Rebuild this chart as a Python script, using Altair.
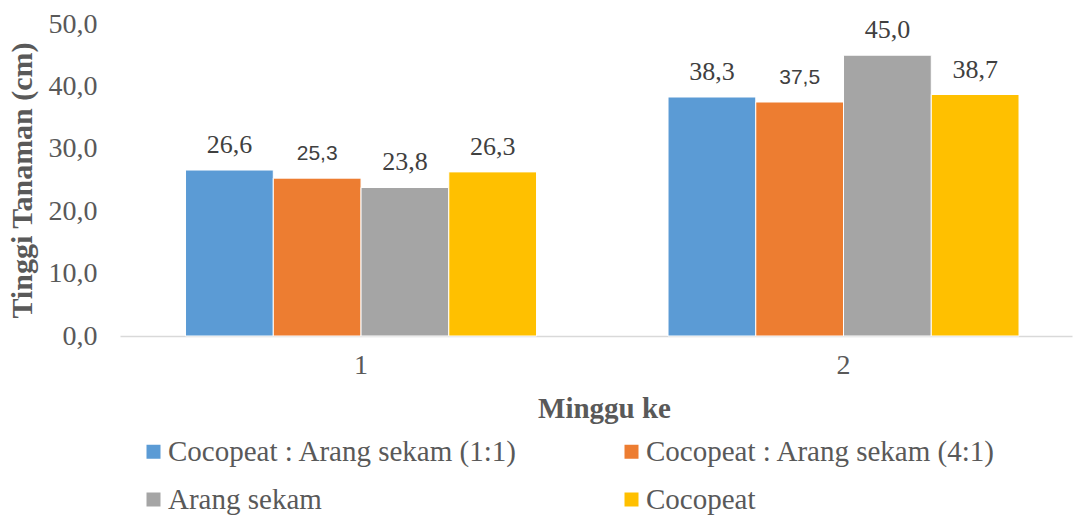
import altair as alt
import pandas as pd

weeks = ["1", "2"]
series = ["Cocopeat : Arang sekam (1:1)", "Cocopeat : Arang sekam (4:1)", "Arang sekam", "Cocopeat"]
colors = ["#5B9BD5", "#ED7D31", "#A5A5A5", "#FFC000"]
values = {
    "Cocopeat : Arang sekam (1:1)": [26.6, 38.3],
    "Cocopeat : Arang sekam (4:1)": [25.3, 37.5],
    "Arang sekam": [23.8, 45.0],
    "Cocopeat": [26.3, 38.7],
}
# labels drawn in a sans face in the original
sans_labels = [("Cocopeat : Arang sekam (4:1)", "1"), ("Cocopeat : Arang sekam (4:1)", "2")]

rows = []
for s in series:
    for w, v in zip(weeks, values[s]):
        rows.append({"Minggu": w, "Seri": s, "Tinggi": v, "sans": (s, w) in sans_labels})
df = pd.DataFrame(rows)

# legend fills column by column: order entries so rows read as in the original
legend_order = [series[0], series[2], series[1], series[3]]
legend_colors = [colors[series.index(s)] for s in legend_order]

SERIF = "Liberation Serif"
GREY = "#595959"

x = alt.X("Minggu:N", sort=weeks,
          scale=alt.Scale(paddingInner=0.2725, paddingOuter=0.1228, align=0.553),
          axis=alt.Axis(title="Minggu ke", labelAngle=0, labelFont=SERIF, labelFontSize=28,
                        labelColor=GREY, labelPadding=15, ticks=False, domainColor="#D9D9D9",
                        domainWidth=1.3, titleFont=SERIF, titleFontSize=29, titleFontWeight="bold",
                        titleColor=GREY, titleX=484, titleY=81, titleBaseline="alphabetic"))
xo = alt.XOffset("Seri:N", sort=series, scale=alt.Scale(paddingInner=0, paddingOuter=0))
y = alt.Y("Tinggi:Q", scale=alt.Scale(domain=[0, 50], nice=False),
          axis=alt.Axis(title="Tinggi Tanaman (cm)", values=[0, 10, 20, 30, 40, 50],
                        labelExpr="replace(format(datum.value, '.1f'), '.', ',')",
                        labelFont=SERIF, labelFontSize=28, labelColor=GREY, labelPadding=23,
                        ticks=False, domain=False, grid=False,
                        titleFont=SERIF, titleFontSize=30, titleFontWeight="bold", titleColor=GREY,
                        titleX=-98, titleY=156, titleAngle=-90, titleBaseline="middle", titleAlign="center"))

color = alt.Color("Seri:N", sort=legend_order, scale=alt.Scale(domain=legend_order, range=legend_colors),
                  legend=alt.Legend(title=None, orient="none", legendX=19, legendY=413, columns=2,
                                    symbolType="square", symbolSize=196, symbolStrokeWidth=0,
                                    labelFont=SERIF, labelFontSize=29, labelColor=GREY,
                                    labelOffset=0, columnPadding=99, rowPadding=18,
                                    labelLimit=500))

base = alt.Chart(df)
bars = base.mark_bar(stroke="white", strokeWidth=1).encode(x=x, xOffset=xo, y=y, color=color)

lab = base.transform_calculate(lbl="replace(format(datum.Tinggi, '.1f'), '.', ',')")
serif_txt = lab.transform_filter("!datum.sans").mark_text(
    font=SERIF, fontSize=26, color="#404040", baseline="alphabetic", dy=-17
).encode(x=alt.X("Minggu:N", sort=weeks), xOffset=alt.XOffset("Seri:N", sort=series), y="Tinggi:Q", text="lbl:N")
sans_txt = lab.transform_filter("datum.sans").mark_text(
    font="Liberation Sans", fontSize=21, color="#404040", baseline="alphabetic", dy=-18
).encode(x=alt.X("Minggu:N", sort=weeks), xOffset=alt.XOffset("Seri:N", sort=series), y="Tinggi:Q", text="lbl:N")

chart = alt.layer(bars, serif_txt, sans_txt).properties(
    width=952, height=312,
    padding={"left": 120, "top": 24, "right": 1, "bottom": 180},
    autosize=alt.AutoSizeParams(type="none"),
    background="white",
).configure_view(stroke=None)

chart.save("out.html", embed_options={"renderer": "svg", "actions": False})
